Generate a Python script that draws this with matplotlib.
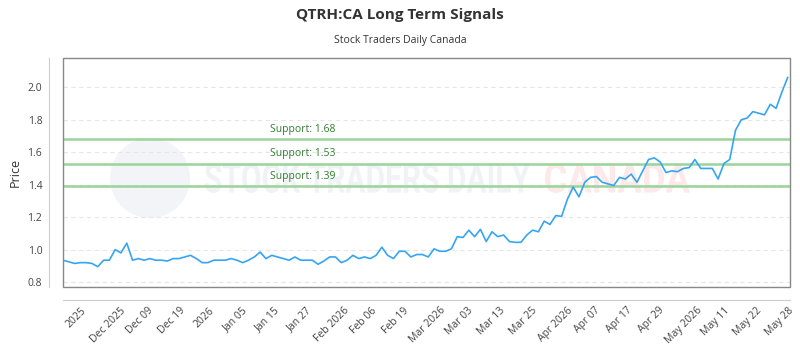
import matplotlib
matplotlib.use('Agg')
import matplotlib.pyplot as plt
import numpy as np
from matplotlib.patches import Rectangle, PathPatch, Circle
from matplotlib.textpath import TextPath
from matplotlib.font_manager import FontProperties
from matplotlib.transforms import Affine2D, IdentityTransform

prices = [0.935, 0.925, 0.915, 0.92, 0.92, 0.915, 0.895, 0.935, 0.935, 1.0,
          0.98, 1.04, 0.935, 0.945, 0.935, 0.945, 0.935, 0.935, 0.93, 0.945,
          0.945, 0.955, 0.965, 0.945, 0.92, 0.92, 0.935, 0.935, 0.935, 0.945,
          0.935, 0.92, 0.935, 0.955, 0.985, 0.945, 0.965, 0.955, 0.945, 0.935,
          0.955, 0.935, 0.935,
          0.935, 0.91, 0.93, 0.955, 0.955, 0.92, 0.935, 0.965, 0.945, 0.955,
          0.945, 0.965, 1.015, 0.965, 0.945, 0.99, 0.99, 0.955, 0.97, 0.97,
          0.955, 1.005, 0.99, 0.99, 1.005, 1.08, 1.075, 1.12, 1.08, 1.125,
          1.05, 1.11, 1.08, 1.09, 1.05, 1.045, 1.045, 1.09, 1.12, 1.11,
          1.175, 1.155, 1.21, 1.205, 1.31, 1.385, 1.325, 1.415, 1.445, 1.45,
          1.415, 1.405, 1.395, 1.445, 1.435, 1.465, 1.415, 1.485, 1.555, 1.565,
          1.54, 1.475, 1.485, 1.48, 1.5, 1.505, 1.555, 1.5, 1.5, 1.5,
          1.435, 1.53, 1.555, 1.735, 1.8, 1.81, 1.85, 1.84, 1.83, 1.895,
          1.87, 1.97, 2.06]

tick_labels = ['2025', 'Dec 2025', 'Dec 09', 'Dec 19', '2026', 'Jan 05', 'Jan 15',
               'Jan 27', 'Feb 2026', 'Feb 06', 'Feb 19', 'Mar 2026', 'Mar 03',
               'Mar 13', 'Mar 25', 'Apr 2026', 'Apr 07', 'Apr 17', 'Apr 29',
               'May 2026', 'May 11', 'May 22', 'May 28']

supports = [1.68, 1.53, 1.39]

plt.rcParams['font.family'] = ['Open Sans', 'DejaVu Sans']

W, H = 800, 350
fig = plt.figure(figsize=(W / 100, H / 100), dpi=100)
ax = fig.add_axes([63/W, 1 - 287/H, 727/W, 229/H])


def watermark_text(text, left, right, top, bottom, color):
    # squeeze the text path into a pixel box (condensed look)
    tp = TextPath((0, 0), text, size=1, prop=FontProperties(family='Roboto', weight='bold'))
    ext = tp.get_extents()
    tr = (Affine2D().translate(-ext.x0, -ext.y0)
          .scale((right - left) / ext.width, (bottom - top) / ext.height)
          .translate(left, H - bottom))
    ax.add_artist(PathPatch(tr.transform_path(tp), transform=IdentityTransform(),
                            facecolor=color, edgecolor='none', zorder=0.5, clip_on=False))


x = np.arange(len(prices))
ax.set_xlim(0, 125.4)
ax.set_ylim(0.77, 2.18)

# watermark
ax.add_artist(Circle((150, H - 178), 40, transform=IdentityTransform(),
                     facecolor='#f2f4f8', edgecolor='none', zorder=0.5, clip_on=False))
watermark_text('STOCK TRADERS DAILY', 205, 530, 163, 193, '#f0f2f6')
watermark_text('CANADA', 545, 690, 163, 193, '#fde9e9')

# grid
ax.set_yticks([0.8, 1.0, 1.2, 1.4, 1.6, 1.8, 2.0])
ax.yaxis.grid(True, color='#e6e6e6', linestyle=(0, (4, 3)), linewidth=0.8)
ax.set_axisbelow(True)

for s in supports:
    ax.axhline(s, color='#9ad49a', linewidth=1.8, zorder=2)
    ax.annotate('Support: %.2f' % s, xy=(0.285, s), xycoords=('axes fraction', 'data'),
                xytext=(0, 3), textcoords='offset points', fontsize=7.5,
                color='#2f7f2f', va='bottom', ha='left', zorder=3)

ax.plot(x, prices, color='#35a5f2', linewidth=1.2, zorder=3)

ticks = np.linspace(2.2, 123.6, len(tick_labels))
ax.set_xticks(ticks)
ax.set_xticklabels(tick_labels)

ax.tick_params(axis='both', length=0, labelsize=7.5, labelcolor='#444444')
ax.tick_params(axis='x', pad=4, labelrotation=45)
ax.tick_params(axis='y', pad=5)
for lbl in ax.get_xticklabels():
    lbl.set_ha('right')
    lbl.set_rotation_mode('anchor')

for side in ['top', 'right']:
    ax.spines[side].set_visible(False)
ax.spines['left'].set_position(('outward', 10))
ax.spines['bottom'].set_position(('outward', 9))
ax.spines['left'].set_color('#cccccc')
ax.spines['bottom'].set_color('#cccccc')
ax.add_patch(Rectangle((0, 0), 1, 1, transform=ax.transAxes, fill=False,
                       edgecolor='#888888', linewidth=1, clip_on=False, zorder=4))

ax.set_ylabel('Price', fontsize=9, color='#333333', labelpad=4)

fig.text(0.5, 1 - 15/H, 'QTRH:CA Long Term Signals', ha='center', va='center',
         fontsize=11, fontweight='bold', color='#333333')
fig.text(0.5, 1 - 41/H, 'Stock Traders Daily Canada', ha='center', va='center',
         fontsize=7.5, color='#333333')

fig.savefig('out.png', dpi=100)
